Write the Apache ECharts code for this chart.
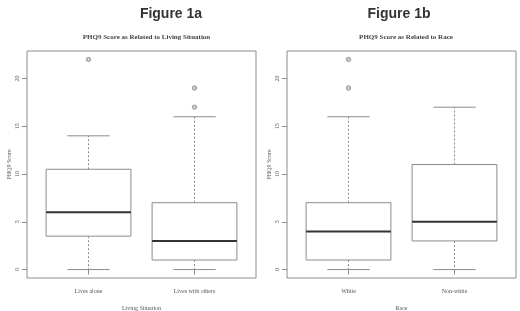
<!DOCTYPE html>
<html><head><meta charset="utf-8">
<script src="https://cdn.jsdelivr.net/npm/echarts@6/dist/echarts.min.js"></script>
<style>html,body{margin:0;padding:0;background:#fff}#c{width:520px;height:311px}</style>
</head><body><div id="c"></div>
<script>
// Data (min, Q1, median, Q3, max)
const livingCategories = ['Lives alone', 'Lives with others'];
const livingStats = [[0, 3.5, 6, 10.5, 14], [0, 1, 3, 7, 16]];
const livingOutliers = [[1, 22], [2, 19], [2, 17]]; // [category position, value]
const raceCategories = ['White', 'Non-white'];
const raceStats = [[0, 1, 4, 7, 16], [0, 3, 5, 11, 17]];
const raceOutliers = [[1, 22], [1, 19]];
const yTicks = [0, 5, 10, 15, 20];
const xPositions = [1, 2];

const lineGray = '#8c8c8c';
const medianColor = '#333333';
const textGray = '#555555';
const serif = "'Liberation Serif','DejaVu Serif',serif";

function renderBox(params, api) {
  const x = api.value(0);
  const vMin = api.value(1), q1 = api.value(2), med = api.value(3), q3 = api.value(4), vMax = api.value(5);
  const halfW = api.size([0.4, 0])[0];
  const capHalf = api.size([0.2, 0])[0];
  const pMin = api.coord([x, vMin]);
  const pQ1 = api.coord([x, q1]);
  const pMed = api.coord([x, med]);
  const pQ3 = api.coord([x, q3]);
  const pMax = api.coord([x, vMax]);
  const cx = pMin[0];
  const lineStyle = { stroke: lineGray, lineWidth: 1, fill: null };
  const dashStyle = { stroke: lineGray, lineWidth: 1, lineDash: [2, 2] };
  return {
    type: 'group',
    children: [
      { type: 'line', shape: { x1: cx, y1: pQ3[1], x2: cx, y2: pMax[1] }, style: dashStyle },
      { type: 'line', shape: { x1: cx, y1: pQ1[1], x2: cx, y2: pMin[1] }, style: dashStyle },
      { type: 'line', shape: { x1: cx - capHalf, y1: pMax[1], x2: cx + capHalf, y2: pMax[1] }, style: lineStyle },
      { type: 'line', shape: { x1: cx - capHalf, y1: pMin[1], x2: cx + capHalf, y2: pMin[1] }, style: lineStyle },
      { type: 'rect', shape: { x: cx - halfW, y: pQ3[1], width: 2 * halfW, height: pQ1[1] - pQ3[1] }, style: { stroke: lineGray, lineWidth: 1, fill: '#fff' } },
      { type: 'line', shape: { x1: cx - halfW, y1: pMed[1], x2: cx + halfW, y2: pMed[1] }, style: { stroke: medianColor, lineWidth: 2 } }
    ]
  };
}

function makeX(idx, cats, name) {
  return {
    type: 'value', gridIndex: idx, min: 0.42, max: 2.58,
    name: name, nameLocation: 'middle', nameGap: 27,
    nameTextStyle: { fontFamily: serif, fontSize: 6, color: textGray },
    axisLine: { show: false }, splitLine: { show: false },
    axisTick: { show: true, customValues: xPositions, length: 5, lineStyle: { color: lineGray } },
    axisLabel: { customValues: xPositions, margin: 10, fontFamily: serif, fontSize: 6, color: textGray,
      formatter: v => cats[Math.round(v) - 1] }
  };
}
function makeY(idx) {
  return {
    type: 'value', gridIndex: idx, min: -0.88, max: 22.88,
    name: 'PHQ9 Score', nameLocation: 'middle', nameGap: 15,
    nameTextStyle: { fontFamily: serif, fontSize: 6, color: textGray },
    axisLine: { show: false }, splitLine: { show: false },
    axisTick: { show: true, customValues: yTicks, length: 5, lineStyle: { color: lineGray } },
    axisLabel: { customValues: yTicks, rotate: 90, margin: 7, fontFamily: serif, fontSize: 6, color: textGray }
  };
}

const chart = echarts.init(document.getElementById('c'), null, { renderer: 'canvas' });
chart.setOption({
  animation: false,
  backgroundColor: '#fff',
  title: [
    { text: 'Figure 1a', left: 166, top: 2, textAlign: 'center', textStyle: { fontFamily: "'Liberation Sans',Arial,sans-serif", fontWeight: 'bold', fontSize: 14, color: '#333' } },
    { text: 'Figure 1b', left: 394, top: 2, textAlign: 'center', textStyle: { fontFamily: "'Liberation Sans',Arial,sans-serif", fontWeight: 'bold', fontSize: 14, color: '#333' } },
    { text: 'PHQ9 Score as Related to Living Situation', left: 141.5, top: 29, textAlign: 'center', textStyle: { fontFamily: serif, fontWeight: 'bold', fontSize: 7, color: '#444' } },
    { text: 'PHQ9 Score as Related to Race', left: 401, top: 29, textAlign: 'center', textStyle: { fontFamily: serif, fontWeight: 'bold', fontSize: 7, color: '#444' } }
  ],
  grid: [
    { left: 27, top: 51, width: 229, height: 227, outerBoundsMode: 'none', show: true, borderColor: lineGray, borderWidth: 1, backgroundColor: 'transparent' },
    { left: 287, top: 51, width: 229, height: 227, outerBoundsMode: 'none', show: true, borderColor: lineGray, borderWidth: 1, backgroundColor: 'transparent' }
  ],
  xAxis: [makeX(0, livingCategories, 'Living Situation'), makeX(1, raceCategories, 'Race')],
  yAxis: [makeY(0), makeY(1)],
  series: [
    { type: 'custom', xAxisIndex: 0, yAxisIndex: 0, renderItem: renderBox,
      data: livingStats.map((s, i) => [xPositions[i]].concat(s)) },
    { type: 'custom', xAxisIndex: 1, yAxisIndex: 1, renderItem: renderBox,
      data: raceStats.map((s, i) => [xPositions[i]].concat(s)) },
    { type: 'scatter', xAxisIndex: 0, yAxisIndex: 0, symbol: 'emptyCircle', symbolSize: 3.5, z: 5,
      itemStyle: { color: '#999', borderColor: '#999', borderWidth: 1 }, data: livingOutliers },
    { type: 'scatter', xAxisIndex: 1, yAxisIndex: 1, symbol: 'emptyCircle', symbolSize: 3.5, z: 5,
      itemStyle: { color: '#999', borderColor: '#999', borderWidth: 1 }, data: raceOutliers }
  ]
});
</script>
</body></html>
